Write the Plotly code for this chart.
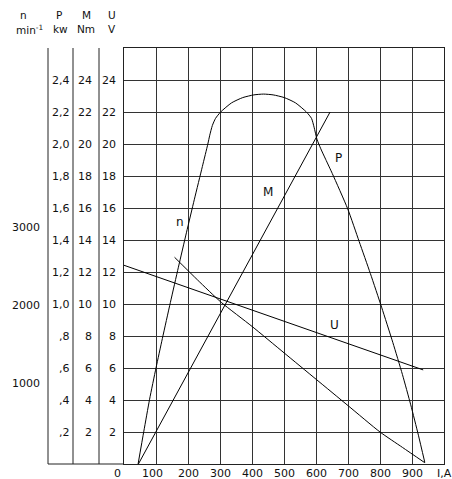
import plotly.graph_objects as go

# ---- data (all curves in the shared grid units of the chart: 0..26) ----
I_ticks = [0, 100, 200, 300, 400, 500, 600, 700, 800, 900, 1000]
I_ticktext = ["0", "100", "200", "300", "400", "500", "600", "700", "800", "900", "I,A"]

grid_vals = [2, 4, 6, 8, 10, 12, 14, 16, 18, 20, 22, 24]
U_labels = ["2", "4", "6", "8", "10", "12", "14", "16", "18", "20", "22", "24"]
M_labels = ["2", "4", "6", "8", "10", "12", "14", "16", "18", "20", "22", "24"]
P_labels = [",2", ",4", ",6", ",8", "1,0", "1,2", "1,4", "1,6", "1,8", "2,0", "2,2", "2,4"]
n_labels = ["1000", "2000", "3000"]
n_label_pos = [5.03, 9.91, 14.79]

# power curve P (arch)
P_I = [44, 62, 80, 100, 120, 145, 170, 195, 220, 245, 262, 268, 276, 286, 302, 336, 371,
       406, 436, 466, 501, 536, 570, 586, 594, 603, 615, 630, 651, 699, 735, 770, 805,
       840, 870, 896, 920, 940]
P_val = [0, 2.05, 4.05, 6.0, 7.85, 10.1, 12.3, 14.45, 16.55, 18.6, 20.0, 20.55, 21.15, 21.6,
         22.0, 22.57, 22.9, 23.07, 23.12, 23.07, 22.9, 22.57, 22.0, 21.6, 21.05, 20.3, 19.7,
         19.05, 18.15, 15.95, 13.9, 11.9, 9.8, 7.6, 5.6, 3.7, 1.8, 0.1]

# speed curve n
n_I = [158, 230, 304, 400, 500, 600, 700, 800, 870, 940]
n_val = [12.92, 11.5, 10.1, 8.6, 6.95, 5.3, 3.65, 2.0, 1.04, 0.08]

# torque M
M_I = [45, 644]
M_val = [0, 22]

# voltage U
U_I = [0, 935]
U_val = [12.42, 5.88]

# curve labels
lab_text = ["n", "M", "P", "U"]
lab_I = [175, 451, 670, 657]
lab_val = [15.14, 16.98, 19.1, 8.69]

FONT = "DejaVu Sans"
W, H = 452, 479
L, R, T, B = 124, 8, 48, 15
PW = W - L - R
PH = H - T - B


def px2paper_x(px):
    return (px - L) / PW


def py2paper_y(py):
    return (H - B - py) / PH


fig = go.Figure()
for xs, ys, shp in [(P_I, P_val, "spline"), (n_I, n_val, "spline"),
                    (M_I, M_val, "linear"), (U_I, U_val, "linear")]:
    fig.add_trace(go.Scatter(x=xs, y=ys, mode="lines",
                             line=dict(color="black", width=1, shape=shp, smoothing=0.6),
                             hoverinfo="skip", showlegend=False))

ann = []
for t, x, y in zip(lab_text, lab_I, lab_val):
    ann.append(dict(x=x, y=y, xref="x", yref="y", text=t, showarrow=False,
                    font=dict(size=12, color="#111", family=FONT)))

# x tick labels
x_shift = {"0": -7, "100": -4}
for v, t in zip(I_ticks, I_ticktext):
    ann.append(dict(x=v, y=0, xref="x", yref="paper", text=t, showarrow=False,
                    xanchor="center", yanchor="middle", yshift=-9,
                    xshift=x_shift.get(t, 0),
                    font=dict(size=11, color="#111", family=FONT)))

# left scale columns
for v, u, m, p in zip(grid_vals, U_labels, M_labels, P_labels):
    for txt, pxr in [(u, 118), (m, 94), (p, 72)]:
        ann.append(dict(x=px2paper_x(pxr), y=v, xref="paper", yref="y", text=txt,
                        showarrow=False, xanchor="right", yanchor="middle",
                        font=dict(size=11, color="#111", family=FONT)))
for txt, v in zip(n_labels, n_label_pos):
    ann.append(dict(x=px2paper_x(42), y=v, xref="paper", yref="y", text=txt,
                    showarrow=False, xanchor="right", yanchor="middle",
                    font=dict(size=11, color="#111", family=FONT)))

# headers (top line anchored by its bottom, second line by its top)
headers = [("n", 23, "bottom"), ("min<sup>-1</sup>", 29, "top"), ("P", 59, "bottom"),
           ("kw", 60, "top"), ("M", 86, "bottom"), ("Nm", 86, "top"),
           ("U", 112, "bottom"), ("V", 112, "top")]
for txt, hx, anc in headers:
    ann.append(dict(x=px2paper_x(hx), y=py2paper_y(22), xref="paper", yref="paper",
                    text=txt, showarrow=False, xanchor="center", yanchor=anc, borderpad=0,
                    font=dict(size=10.5, color="#111", family=FONT)))

shapes = []
for lx in [48, 73, 99]:
    shapes.append(dict(type="line", xref="paper", yref="paper", x0=px2paper_x(lx),
                       x1=px2paper_x(lx), y0=0, y1=1, line=dict(color="#222", width=1)))
shapes.append(dict(type="line", xref="paper", yref="paper", x0=px2paper_x(48), x1=0,
                   y0=0, y1=0, line=dict(color="#222", width=1)))

fig.update_layout(
    width=W, height=H,
    margin=dict(l=L, r=R, t=T, b=B),
    paper_bgcolor="white", plot_bgcolor="white",
    font=dict(family=FONT, size=11, color="#111"),
    annotations=ann, shapes=shapes,
    xaxis=dict(range=[0, 1000], tickvals=I_ticks, showticklabels=False, showgrid=True,
               gridcolor="#333", gridwidth=1, showline=True, mirror=True, linecolor="#222",
               zeroline=False, ticks=""),
    yaxis=dict(range=[0, 26], tickvals=[0] + grid_vals, showticklabels=False, showgrid=True,
               gridcolor="#333", gridwidth=1, showline=True, mirror=True, linecolor="#222",
               zeroline=False, ticks=""),
)

fig.write_html("out.html", config={"displayModeBar": False},
               post_script="document.body.style.margin='0';")
